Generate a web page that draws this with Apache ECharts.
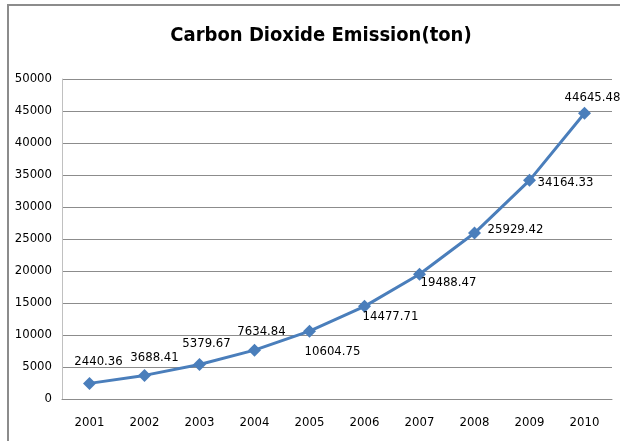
<!DOCTYPE html>
<html>
<head>
<meta charset="utf-8">
<style>
  html, body { margin: 0; padding: 0; background: #fff; }
  #chart { width: 620px; height: 441px; }
</style>
<script src="https://cdn.jsdelivr.net/npm/echarts@6/dist/echarts.min.js"></script>
</head>
<body>
<div id="chart"></div>
<script>
// Annual CO2 emission (ton), 2001-2010
const years = ['2001', '2002', '2003', '2004', '2005', '2006', '2007', '2008', '2009', '2010'];
const emissions = [2440.36, 3688.41, 5379.67, 7634.84, 10604.75, 14477.71, 19488.47, 25929.42, 34164.33, 44645.48];

// value-label centre offsets from each marker, in pixels
const labelOffsets = [[9, -22], [10, -18], [7, -21], [7, -19], [23, 20], [26, 10], [29, 8], [41, -3], [36, 2], [8, -16]];

const FONT = '"DejaVu Sans Condensed", "Liberation Sans Narrow", sans-serif';

const chart = echarts.init(document.getElementById('chart'));
chart.setOption({
  animation: false,
  backgroundColor: '#fff',
  title: {
    text: 'Carbon Dioxide Emission(ton)',
    left: 316,
    textAlign: 'center',
    top: 21,
    textStyle: { fontFamily: FONT, fontWeight: 'bold', fontSize: 20, color: '#000' }
  },
  graphic: [{
    type: 'rect',
    shape: { x: 8, y: 5, width: 640, height: 470 },
    style: { fill: 'none', stroke: '#8c8c8c', lineWidth: 2 },
    silent: true
  }],
  grid: { left: 62, right: 8, top: 79, bottom: 42 },
  xAxis: {
    type: 'category',
    data: years,
    boundaryGap: true,
    axisLine: { lineStyle: { color: '#8c8c8c', width: 1 } },
    axisTick: { show: false },
    axisLabel: { fontFamily: FONT, fontSize: 13, color: '#000', margin: 17 }
  },
  yAxis: {
    type: 'value',
    min: 0,
    max: 50000,
    interval: 5000,
    axisLine: { show: true, lineStyle: { color: '#c0c0c0' } },
    axisTick: { show: false },
    splitLine: { lineStyle: { color: '#8c8c8c', width: 1 } },
    axisLabel: { fontFamily: FONT, fontSize: 13, color: '#000', margin: 10, formatter: v => String(v) }
  },
  series: [{
    type: 'line',
    data: emissions.map((v, i) => ({
      value: v,
      label: { position: 'inside', offset: labelOffsets[i] }
    })),
    symbol: 'diamond',
    symbolSize: 13,
    lineStyle: { color: '#4a7ebb', width: 3 },
    itemStyle: { color: '#4a7ebb' },
    label: {
      show: true,
      fontFamily: FONT,
      fontSize: 13,
      color: '#000',
      align: 'center',
      verticalAlign: 'middle',
      formatter: p => p.value.toFixed(2)
    }
  }]
});
</script>
</body>
</html>
